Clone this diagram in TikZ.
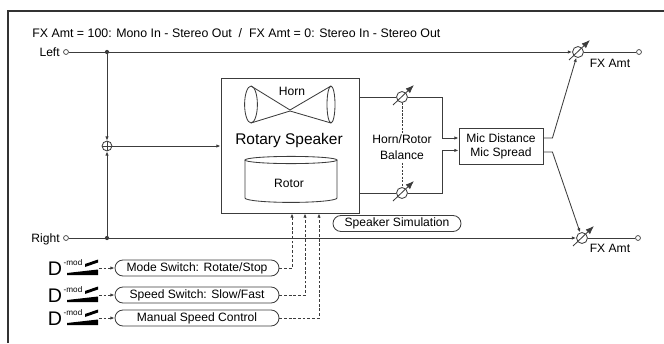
\documentclass[tikz,border=0pt]{standalone}
\usepackage{fontspec}
\setmainfont{Liberation Sans}
\usetikzlibrary{arrows.meta}
\usetikzlibrary{positioning}

\definecolor{wirec}{RGB}{60,60,60}

\tikzset{
  wire/.style={draw=wirec, line width=0.6pt},
  tip/.style={-{Latex[length=3pt,width=2.4pt]}},
  ctrl/.style={wire, dash pattern=on 2pt off 1.3pt},
  amp/.style={circle, draw=wirec, line width=0.6pt, inner sep=0pt, minimum size=7.8pt},
  term/.style={circle, draw=wirec, line width=0.5pt, fill=white, inner sep=0pt, minimum size=3.5pt},
  dot/.style={circle, fill=wirec, inner sep=0pt, minimum size=3pt},
  block/.style={draw=wirec, line width=0.6pt},
  modbox/.style={draw=wirec, line width=0.6pt, rounded corners=0.2cm, minimum width=4.1cm, minimum height=0.4cm, inner sep=0pt},
  lbl/.style={font=\fontsize{8.6}{10}\selectfont, inner sep=0pt},
}

\begin{document}
\begin{tikzpicture}[x=0.025cm, y=-0.025cm]
    \useasboundingbox (0,0) rectangle (664,343);

    % frame
    \draw[line width=1.4pt, draw={rgb,255:red,50;green,50;blue,50}] (8,343) -- (8,11) -- (664,11);

    \node[lbl, font=\fontsize{8.8}{10}\selectfont, anchor=base west] (title) at (32,37) {FX Amt = 100: Mono In - Stereo Out \ / \ FX Amt = 0: Stereo In - Stereo Out};

    % inputs, outputs
    \node[lbl, anchor=base east] (txtL) at (60,56) {Left};
    \node[lbl, anchor=base east] (txtR) at (60,242) {Right};
    \node[term] (inL) at (66,52) {};
    \node[term] (inR) at (66,238) {};
    \node[dot] (dotL) at (107,52) {};
    \node[dot] (dotR) at (107,238) {};
    \node[term] (outL) at (639,52) {};
    \node[term] (outR) at (638,238) {};
    \node[amp] (ampL) at (578,52) {};
    \node[amp] (ampR) at (582,238) {};
    \node[lbl] (fxL) at (610,63) {FX Amt};
    \node[lbl] (fxR) at (610,248) {FX Amt};

    % mono sum
    \node[circle, draw=wirec, line width=0.6pt, inner sep=0pt, minimum size=7pt,
      path picture={\draw[wirec, line width=0.5pt] (path picture bounding box.north) -- (path picture bounding box.south)
        (path picture bounding box.west) -- (path picture bounding box.east);}] (sum) at (107,146) {};

    % rotary speaker
    \node[block, minimum width=3.45cm, minimum height=3.375cm] (rotary) at (290,145.5) {};
    \node[font=\fontsize{11}{13}\selectfont, inner sep=0pt] (rotaryTxt) at (289,140) {Rotary Speaker};
    \draw[wirec, line width=0.6pt] (251,104.5) ellipse (0.16cm and 0.46cm);
    \draw[wirec, line width=0.6pt] (331,104.5) ellipse (0.1cm and 0.46cm);
    \draw[wirec, line width=0.6pt] (251,86) -- (290,110) -- (331,86);
    \draw[wirec, line width=0.6pt] (251,123) -- (290,111) -- (331,123);
    \node[lbl] (hornTxt) at (292,91) {Horn};
    \draw[wirec, line width=0.6pt] (291,160) ellipse (1.15cm and 0.09cm);
    \draw[wirec, line width=0.6pt] (245,160) -- (245,198) arc[start angle=180, end angle=360, x radius=1.15cm, y radius=0.11cm] -- (337,160);
    \node[lbl] (rotorTxt) at (289,183) {Rotor};

    % balance
    \node[amp] (ampH) at (402,97) {};
    \node[amp] (ampB) at (402,193) {};
    \draw[wire] (rotary.east |- ampH) -- (ampH);
    \draw[wire] (rotary.east |- ampB) -- (ampB);
    \draw[wire, dash pattern=on 1.5pt off 1pt] (ampH) -- (ampB);
    \node[lbl, fill=white, align=center, font=\fontsize{8.6}{11.3}\selectfont, inner sep=1pt] (balTxt) at (402,147) {Horn/Rotor\\Balance};

    % mic
    \node[block, lbl, align=center, minimum width=2.1cm, minimum height=0.9cm] (mic) at (501,146) {Mic Distance\\Mic Spread};
    \draw[wire, tip] (ampH) -- ++(40,0) |- ([yshift=0.2cm]mic.west);
    \draw[wire, tip] (ampB) -- ++(40,0) |- ([yshift=-0.11cm]mic.west);
    \draw[wire, tip] ([yshift=0.2cm]mic.east) -- ++(9,0) -- (ampL);
    \draw[wire, tip] ([yshift=-0.15cm]mic.east) -- ++(9,0) -- (ampR);

    % dry paths
    \draw[wire] (inL) -- (dotL);
    \draw[wire, tip] (dotL) -- (ampL);
    \draw[wire, tip] (dotL) -- (sum);
    \draw[wire] (inR) -- (dotR);
    \draw[wire, tip] (dotR) -- (ampR);
    \draw[wire, tip] (dotR) -- (sum);
    \draw[wire, tip] (sum) -- (sum -| rotary.west);
    \draw[wire] (ampL) -- (outL);
    \draw[wire] (ampR) -- (outR);

    % level knobs
    \foreach \a in {ampL,ampR,ampH,ampB}
      \draw[wire, -{Latex[length=6pt,width=4.5pt]}] ([shift={(-9,8)}]\a.center) -- ([shift={(12,-12)}]\a.center);

    \node[modbox, lbl, minimum width=3.2cm] (sim) at (397,223.5) {Speaker Simulation};

    % modulation sources
    \node[modbox, lbl] (mode) at (197,268) {Mode Switch: Rotate/Stop};
    \node[modbox, lbl] (speed) at (197,295) {Speed Switch: Slow/Fast};
    \node[modbox, lbl] (manual) at (197,318) {Manual Speed Control};

    \foreach \y/\n in {268/mode,295/speed,318/manual}{
      \node[font=\fontsize{14}{14}\selectfont, inner sep=0pt] (dmod\n) at (55,\y+0.5) {D};
      \node[font=\fontsize{5.8}{5.8}\selectfont, inner sep=0pt] at (73,\y-5) {-mod};
      \fill[black] (67,\y+7) -- (98,\y+7) -- (98,\y+1.5) -- (67,\y+5) -- cycle;
      \fill[black] (85,\y-1) -- (98,\y-5.5) -- (98,\y-8.5) -- (85,\y-4) -- cycle;
      \coordinate (pedal\n) at (99,\y);
      \draw[ctrl, tip] (pedal\n) -- (\n.west);
    }

    \draw[ctrl, tip] (mode.east) -| ([xshift=0.05cm]rotary.south);
    \draw[ctrl, tip] (speed.east) -| ([xshift=0.375cm]rotary.south);
    \draw[ctrl, tip] (manual.east) -| ([xshift=0.725cm]rotary.south);
\end{tikzpicture}
\end{document}
